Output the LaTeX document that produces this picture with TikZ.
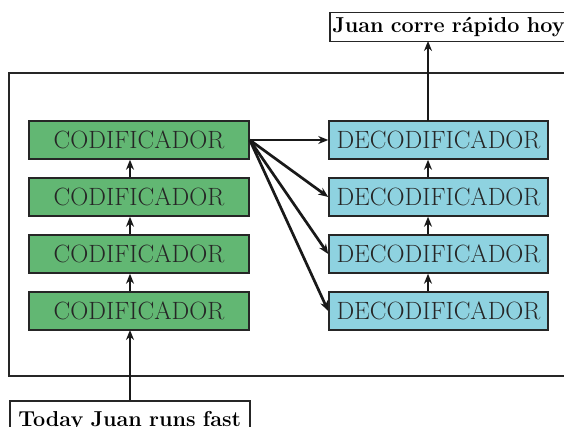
\documentclass[tikz,border=0pt]{standalone}
\usetikzlibrary{arrows.meta}
\definecolor{encgreen}{RGB}{98,183,115}
\definecolor{decblue}{RGB}{142,210,224}
\begin{document}
\begin{tikzpicture}[x=1pt,y=-1pt,
  blk/.style={draw=black!85,line width=1.5pt,minimum height=38pt,inner sep=0pt,font=\fontsize{25}{30}\selectfont,text=black!85},
  enc/.style={blk,fill=encgreen,minimum width=220pt},
  dec/.style={blk,fill=decblue,minimum width=219pt},
  io/.style={draw=black!85,line width=1.5pt,inner sep=0pt,anchor=north west,font=\fontsize{21.6}{26}\selectfont\bfseries},
  arr/.style={line width=2.7pt,draw=black!90,-{Stealth[length=10pt,width=8pt]}}]
\useasboundingbox (0,0) rectangle (564,427);
\clip (0,0) rectangle (564,427);
\draw[line width=1.5pt,black!85] (9,73) rectangle (590,376);
\foreach \i/\y in {1/140,2/197,3/254,4/311}{
  \node[enc] (e\i) at (139,\y) {CODIFICADOR};
  \node[dec] (d\i) at (438.5,\y) {DECODIFICADOR};
}
\node[io,minimum width=280pt,minimum height=29pt,text width=280pt,align=left] (out) at (329,12) {\hspace*{2.5pt}Juan corre rápido hoy};
\node[io,minimum width=240pt,minimum height=40pt,text width=240pt,align=center] (inp) at (9,400) {\raisebox{-7pt}{Today Juan runs fast}};
\coordinate (ia) at (130,400);
\coordinate (ib) at (130,330);
\draw[arr] (ia) -- (ib);
\foreach \a/\b in {4/3,3/2,2/1}{
  \draw[arr] ([xshift=-9pt]e\a.north) -- ([xshift=-9pt]e\b.south);
  \draw[arr] ([xshift=-10.5pt]d\a.north) -- ([xshift=-10.5pt]d\b.south);
}
\coordinate (oa) at (428,121);
\coordinate (ob) at (428,41);
\draw[arr] (oa) -- (ob);
\foreach \i in {1,2,3,4}{
  \draw[arr] (e1.east) -- (d\i.west);
}
\end{tikzpicture}
\end{document}
